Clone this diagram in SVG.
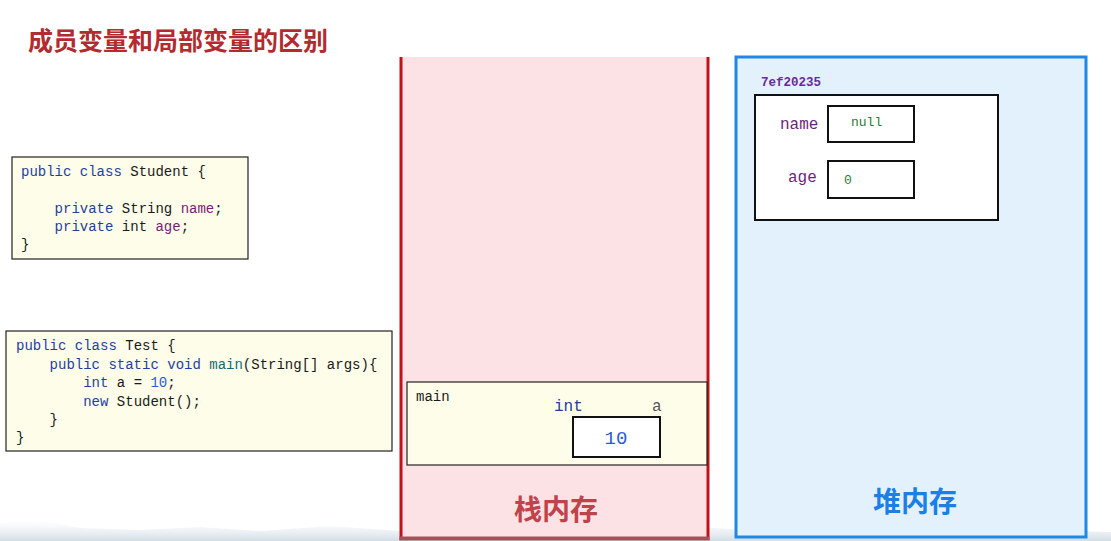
<svg xmlns="http://www.w3.org/2000/svg" width="1111" height="541" viewBox="0 0 1111 541">
<defs>
<style>
.mono{font-family:"Liberation Mono","DejaVu Sans Mono",monospace;font-size:14px;fill:#1a1a1a;white-space:pre}
.kw{fill:#1f3f9e}
.fld{fill:#7a1a7a}
.num{fill:#2a5bd7}
.code{fill:#fdfde9;stroke:#222;stroke-width:1.2}
.cjk{font-family:"Noto Sans CJK SC","Noto Sans",sans-serif;font-weight:bold}
.cell{fill:#fff;stroke:#111;stroke-width:2}
</style>
<linearGradient id="fog" x1="0" y1="0" x2="0" y2="1">
<stop offset="0" stop-color="#e8eef3" stop-opacity="0"/>
<stop offset="1" stop-color="#cdd9e3" stop-opacity="0.9"/>
</linearGradient>
</defs>
<rect width="1111" height="541" fill="#ffffff"/>
<path d="M0 523 L40 520 L80 528 L140 530 L200 527 L260 531 L330 526 L400 531 L470 529 L560 533 L640 529 L700 527 L760 531 L850 529 L950 532 L1040 530 L1111 532 L1111 541 L0 541 Z" fill="url(#fog)"/>
<text x="28" y="50" class="cjk" font-size="25" fill="#b22b2e">成员变量和局部变量的区别</text>

<g id="stack">
<rect x="401" y="57" width="307" height="481" fill="#fde2e5"/>
<line x1="401" y1="57" x2="401" y2="540" stroke="#c1121b" stroke-width="3"/>
<line x1="708" y1="57" x2="708" y2="540" stroke="#c1121b" stroke-width="3"/>
<line x1="399.5" y1="538.5" x2="709.5" y2="538.5" stroke="#a8505a" stroke-width="4"/>
<text x="556" y="520" class="cjk" font-size="28" fill="#c0434b" text-anchor="middle">栈内存</text>
</g>

<g id="heap">
<rect x="736" y="57" width="350" height="480" fill="#e3f1fd" stroke="#1e88e5" stroke-width="3"/>
<text x="915" y="512" class="cjk" font-size="28" fill="#1a7fe6" text-anchor="middle">堆内存</text>
</g>

<g id="student-code">
<rect x="12" y="157" width="236" height="102" class="code"/>
<text class="mono" xml:space="preserve" x="21" y="176"><tspan class="kw">public class</tspan> Student {</text>
<text class="mono" xml:space="preserve" x="21" y="213">    <tspan class="kw">private</tspan> String <tspan class="fld">name</tspan>;</text>
<text class="mono" xml:space="preserve" x="21" y="231">    <tspan class="kw">private</tspan> int <tspan class="fld">age</tspan>;</text>
<text class="mono" x="21" y="249">}</text>
</g>

<g id="test-code">
<rect x="6" y="331" width="386" height="120" class="code"/>
<text class="mono" xml:space="preserve" x="16" y="350"><tspan class="kw">public class</tspan> Test {</text>
<text class="mono" xml:space="preserve" x="16" y="369">    <tspan class="kw">public static void</tspan> <tspan fill="#0e6b7a">main</tspan>(String[] args){</text>
<text class="mono" xml:space="preserve" x="16" y="387">        <tspan class="kw">int</tspan> a = <tspan class="num">10</tspan>;</text>
<text class="mono" xml:space="preserve" x="16" y="406">        <tspan class="kw">new</tspan> Student();</text>
<text class="mono" xml:space="preserve" x="16" y="424">    }</text>
<text class="mono" x="16" y="442">}</text>
</g>

<g id="main-frame">
<rect x="407" y="382" width="300" height="83" class="code"/>
<text x="416" y="401" class="mono" font-size="13">main</text>
<text x="554" y="411" font-family="Liberation Mono,DejaVu Sans Mono,monospace" font-size="16" fill="#1f3f9e">int</text>
<text x="652" y="411" font-family="Liberation Mono,DejaVu Sans Mono,monospace" font-size="16" fill="#555">a</text>
<rect x="573" y="417" width="87" height="40" class="cell"/>
<text x="616" y="444" font-family="Liberation Mono,DejaVu Sans Mono,monospace" font-size="19" fill="#2a5bd7" text-anchor="middle">10</text>
</g>

<g id="student-object">
<text x="761" y="86" font-family="Liberation Mono,DejaVu Sans Mono,monospace" font-size="12.5" font-weight="bold" fill="#6a2a9a">7ef20235</text>
<rect x="755" y="95" width="243" height="125" class="cell"/>
<text x="780" y="129" font-family="Liberation Mono,DejaVu Sans Mono,monospace" font-size="16" fill="#6e1f78">name</text>
<rect x="828" y="106" width="86" height="36" class="cell"/>
<text x="851" y="126" font-family="Liberation Mono,DejaVu Sans Mono,monospace" font-size="13" fill="#2a7a35">null</text>
<text x="788" y="182" font-family="Liberation Mono,DejaVu Sans Mono,monospace" font-size="16" fill="#6e1f78">age</text>
<rect x="828" y="161" width="86" height="37" class="cell"/>
<text x="844" y="184" font-family="Liberation Mono,DejaVu Sans Mono,monospace" font-size="13" fill="#2a7a35">0</text>
</g>
</svg>
